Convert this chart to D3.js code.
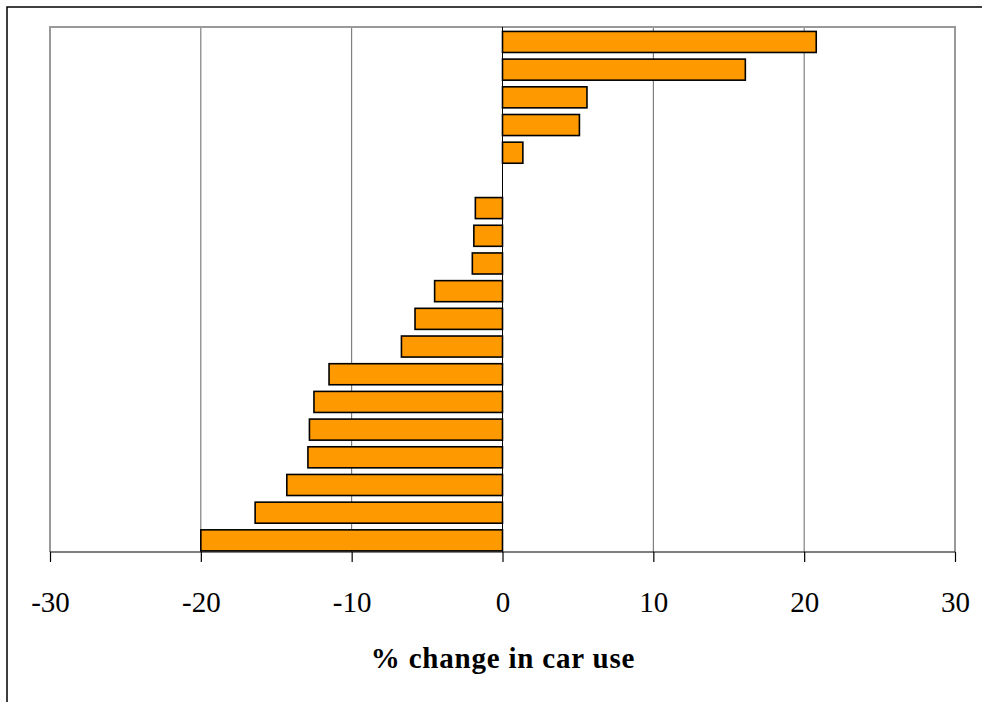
<!DOCTYPE html>
<html>
<head>
<meta charset="utf-8">
<script src="https://cdn.jsdelivr.net/npm/d3@7"></script>
<style>
html, body { margin: 0; padding: 0; background: #fff; }
svg { display: block; }
</style>
</head>
<body>
<svg id="chart" width="982" height="702"></svg>
<script>
// Data (top to bottom)
const categories = ["c1","c2","c3","c4","c5","c6","c7","c8","c9","c10","c11","c12","c13","c14","c15","c16","c17","c18","c19"];
const values = [20.8, 16.1, 5.6, 5.1, 1.35, 0, -1.8, -1.9, -2.0, -4.5, -5.8, -6.7, -11.5, -12.5, -12.8, -12.9, -14.3, -16.4, -20.0];
const tickValues = [-30, -20, -10, 0, 10, 20, 30];
const xTitle = "% change in car use";

const svg = d3.select("#chart");
const W = 982, H = 702;
const plot = {left: 50, right: 955, top: 27, bottom: 552};
const serif = "'Liberation Serif', 'DejaVu Serif', serif";

// outer frame
svg.append("path")
  .attr("d", `M7,${H} L7,7 L${W},7`)
  .attr("fill", "none").attr("stroke", "#000").attr("stroke-width", 1.5);

const x = d3.scaleLinear().domain([-30, 30]).range([plot.left, plot.right]);
const y = d3.scaleBand().domain(categories).range([plot.top, plot.bottom])
  .paddingInner(0.24).paddingOuter(0.1).align(0.8);

// gridlines
svg.append("g").selectAll("line")
  .data(tickValues.filter(t => t !== 0 && t !== -30 && t !== 30))
  .join("line")
  .attr("x1", d => x(d)).attr("x2", d => x(d))
  .attr("y1", plot.top).attr("y2", plot.bottom)
  .attr("stroke", "#666").attr("stroke-width", 1);

// plot border (gray)
svg.append("path")
  .attr("d", `M${plot.left},${plot.bottom} L${plot.left},${plot.top} L${plot.right},${plot.top} L${plot.right},${plot.bottom}`)
  .attr("fill", "none").attr("stroke", "#999").attr("stroke-width", 2);

// zero line
svg.append("line")
  .attr("x1", x(0)).attr("x2", x(0))
  .attr("y1", plot.top).attr("y2", plot.bottom)
  .attr("stroke", "#000").attr("stroke-width", 1);

// bars
svg.append("g").selectAll("rect")
  .data(categories.map((c, i) => ({c, v: values[i]})).filter(d => d.v !== 0))
  .join("rect")
  .attr("x", d => x(Math.min(0, d.v)))
  .attr("width", d => Math.abs(x(d.v) - x(0)))
  .attr("y", d => y(d.c))
  .attr("height", y.bandwidth())
  .attr("fill", "#FF9900")
  .attr("stroke", "#000").attr("stroke-width", 1.6);

// x axis
const axis = d3.axisBottom(x).tickValues(tickValues).tickSize(10).tickPadding(29).tickFormat(d3.format("d"));
const gx = svg.append("g").attr("transform", `translate(0,${plot.bottom})`).call(axis);
gx.select(".domain").attr("stroke", "#000").attr("stroke-width", 1.2).attr("d", `M${plot.left},0H${plot.right}`);
gx.selectAll(".tick line").attr("stroke", "#000").attr("stroke-width", 1.2);
gx.selectAll(".tick text")
  .attr("font-family", serif).attr("font-size", 29).attr("fill", "#000")
  .text(d => d < 0 ? "-" + Math.abs(d) : String(d));

// axis title
svg.append("text")
  .attr("x", (plot.left + plot.right) / 2 + 0.5)
  .attr("y", 668)
  .attr("text-anchor", "middle")
  .attr("font-family", serif)
  .attr("font-weight", "bold")
  .attr("font-size", 29)
  .attr("letter-spacing", 0.8)
  .attr("fill", "#000")
  .text(xTitle);
</script>
</body>
</html>
